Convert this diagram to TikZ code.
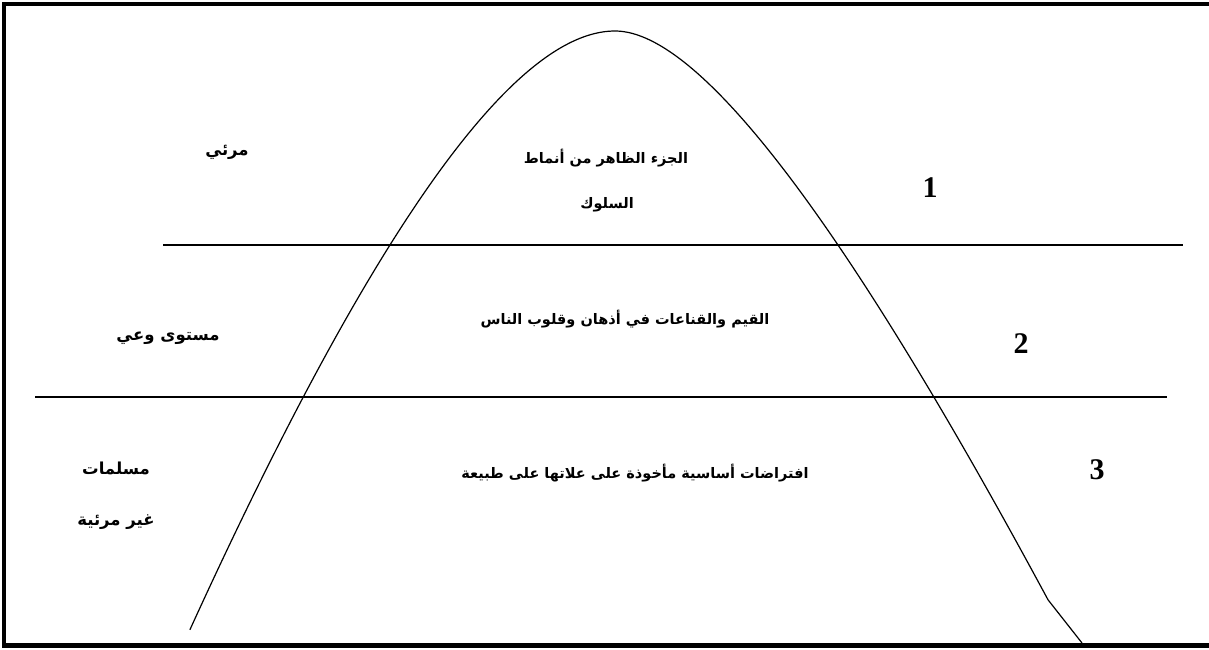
\documentclass[tikz,border=0pt]{standalone}
\usepackage{fontspec}
\setmainfont{Liberation Serif}
\newfontfamily\arabicfont[Script=Arabic]{DejaVu Sans}
\TeXXeTstate=1
\tikzset{
  ar/.style={font=\arabicfont\bfseries\fontsize{14.5}{17}\selectfont, inner sep=0pt},
  arl/.style={font=\arabicfont\bfseries\fontsize{16.5}{19}\selectfont, inner sep=0pt},
  num/.style={font=\bfseries\fontsize{30}{30}\selectfont, inner sep=0pt},
  hline/.style={line width=1.4pt},
  curve/.style={line width=1.2pt, line join=round},
  frame/.style={line width=4.5pt}
}
\begin{document}
\begin{tikzpicture}[x=1pt,y=-1pt]
\useasboundingbox (0,0) rectangle (1209,649);
% frame
\coordinate (ftr) at (1209,4);
\coordinate (ftl) at (4,4);
\coordinate (fbl) at (4,645.5);
\coordinate (fbr) at (1209,645.5);
\draw[frame] (ftr) -- (ftl) -- (fbl) -- (fbr);
% horizontal lines
\coordinate (l1a) at (163,245);
\coordinate (l1b) at (1183,245);
\coordinate (l2a) at (35,397);
\coordinate (l2b) at (1167,397);
\draw[hline] (l1a) -- (l1b);
\draw[hline] (l2a) -- (l2b);
% curve
\coordinate (cend) at (1082,643);
\draw[curve] plot[domain=-24.47:0, samples=90, smooth] ({615 + 12.43*\x - 0.202*\x*\x}, {31 + \x*\x})
  -- plot[domain=0:23.85, samples=90, smooth] ({615 + 10.62*\x + 0.316*\x*\x}, {31 + \x*\x})
  -- (cend);
% central texts
\node[ar] (t1a) at (606,158) {\beginR الجزء الظاهر من أنماط\endR};
\node[ar] (t1b) at (607,205) {\beginR السلوك\endR};
\node[ar] (t2) at (625,319) {\beginR القيم والقناعات في أذهان وقلوب الناس\endR};
\node[ar] (t3) at (635,473) {\beginR افتراضات أساسية مأخوذة على علاتها على طبيعة\endR};
% left labels
\node[arl] (s1) at (227,152) {\beginR مرئي\endR};
\node[arl] (s2) at (168,338) {\beginR مستوى وعي\endR};
\node[arl] (s3a) at (116,468) {\beginR مسلمات\endR};
\node[arl] (s3b) at (116,522) {\beginR غير مرئية\endR};
% numbers
\node[num] (n1) at (930,188) {1};
\node[num] (n2) at (1021,344) {2};
\node[num] (n3) at (1097,470) {3};
\end{tikzpicture}
\end{document}
